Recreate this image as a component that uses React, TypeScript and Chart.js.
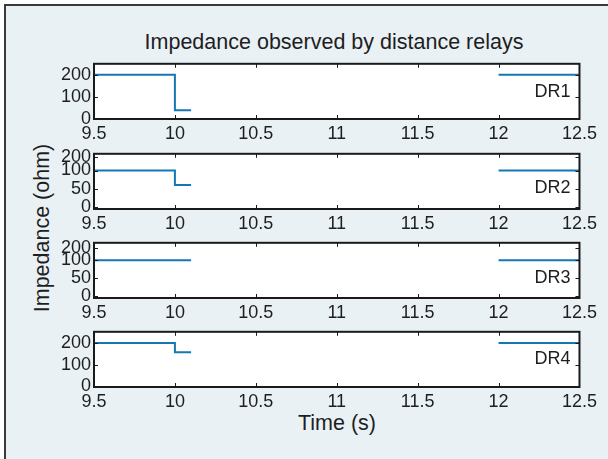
import React, { useEffect, useRef } from "react";
import { Chart, registerables } from "chart.js";

Chart.register(...registerables);

// ---------- data ----------
const timePoints = [9.5, 10, 10, 10.1, 11, 12, 12.5];
const dr1Values = [200, 200, 38, 38, null, 200, 200];
const dr2Values = [100, 100, 60, 60, null, 100, 100];
const dr3Values = [100, 100, 100, 100, null, 100, 100];
const dr4Values = [200, 200, 157, 157, null, 200, 200];
const relayNames = ["DR1", "DR2", "DR3", "DR4"];

const xTicks = [9.5, 10, 10.5, 11, 11.5, 12, 12.5];
const xTickLabels = ["9.5", "10", "10.5", "11", "11.5", "12", "12.5"];
const yTicksWide = [0, 100, 200];
const yTickLabelsWide = ["0", "100", "200"];
const yTicksP2 = [0, 50, 100, 138];
const yTicksP3 = [0, 50, 100, 134];
const yTickLabelsNarrow = ["0", "50", "100", "200"];

const titleText = "Impedance observed by distance relays";
const xAxisLabel = "Time (s)";
const yAxisLabel = "Impedance (ohm)";

// ---------- layout / style ----------
const FONT = "'Liberation Sans', Arial, Helvetica, sans-serif";
const TEXT = "#1e1e1e";
const LINE = "#1677b5";
const PLOT_LEFT = 94;
const PLOT_W = 487;
const PLOT_H = 57;
const Y_W = 44;
const X_H = 30;
const PAD_TOP = 12;
const PAD_R = 20;

const PANELS = [
  { values: dr1Values, name: relayNames[0], top: 62, yMin: -2, yMax: 250, ticks: yTicksWide, labels: yTickLabelsWide, dy: 28 },
  { values: dr2Values, name: relayNames[1], top: 152, yMin: -6, yMax: 146, ticks: yTicksP2, labels: yTickLabelsNarrow, dy: 34 },
  { values: dr3Values, name: relayNames[2], top: 241, yMin: -5, yMax: 149, ticks: yTicksP3, labels: yTickLabelsNarrow, dy: 35 },
  { values: dr4Values, name: relayNames[3], top: 330, yMin: -4, yMax: 252, ticks: yTicksWide, labels: yTickLabelsWide, dy: 27 },
];

const framePlugin = {
  id: "frame",
  beforeDraw(chart: any) {
    const { ctx, chartArea: a } = chart;
    ctx.save();
    ctx.fillStyle = "#ffffff";
    ctx.fillRect(a.left, a.top, a.right - a.left, a.bottom - a.top);
    ctx.restore();
  },
  afterDraw(chart: any, _args: any, opts: any) {
    const { ctx, chartArea: a } = chart;
    const xs = chart.scales.x;
    const ys = chart.scales.y;
    ctx.save();
    ctx.strokeStyle = "#1a1a1a";
    ctx.lineWidth = 1;
    const tl = 4;
    ctx.beginPath();
    xs.ticks.forEach((t: any) => {
      const px = Math.round(xs.getPixelForValue(t.value)) + 0.5;
      ctx.moveTo(px, a.bottom);
      ctx.lineTo(px, a.bottom - tl);
      ctx.moveTo(px, a.top);
      ctx.lineTo(px, a.top + tl);
    });
    ys.ticks.forEach((t: any) => {
      const py = Math.round(ys.getPixelForValue(t.value)) + 0.5;
      ctx.moveTo(a.left, py);
      ctx.lineTo(a.left + tl, py);
      ctx.moveTo(a.right, py);
      ctx.lineTo(a.right - tl, py);
    });
    ctx.stroke();
    ctx.lineWidth = 2;
    ctx.strokeRect(a.left, a.top, a.right - a.left, a.bottom - a.top);
    if (opts && opts.label) {
      ctx.fillStyle = TEXT;
      ctx.font = `18px ${FONT}`;
      ctx.textAlign = "right";
      ctx.textBaseline = "middle";
      ctx.fillText(opts.label, a.right - 9, a.top + opts.dy);
    }
    ctx.restore();
  },
};

function Panel({ panel }: { panel: (typeof PANELS)[number] }) {
  const ref = useRef<HTMLCanvasElement | null>(null);
  useEffect(() => {
    if (!ref.current) return;
    const chart = new Chart(ref.current, {
      type: "line",
      data: {
        datasets: [
          {
            label: panel.name,
            data: timePoints.map((t, i) => ({ x: t, y: panel.values[i] })) as any,
            borderColor: LINE,
            borderWidth: 2,
            pointRadius: 0,
            spanGaps: false,
            fill: false,
            tension: 0,
          },
        ],
      },
      options: {
        responsive: false,
        animation: false,
        devicePixelRatio: 1,
        layout: { padding: { top: PAD_TOP, right: PAD_R, left: 0, bottom: 0 } },
        plugins: {
          legend: { display: false },
          tooltip: { enabled: false },
          frame: { label: panel.name, dy: panel.dy },
        } as any,
        scales: {
          x: {
            type: "linear",
            min: 9.5,
            max: 12.5,
            bounds: "data",
            grid: { display: false, drawTicks: false },
            border: { display: false },
            afterBuildTicks: (s: any) => {
              s.ticks = xTicks.map((v) => ({ value: v }));
            },
            afterFit: (s: any) => {
              s.height = X_H;
            },
            ticks: {
              autoSkip: false,
              maxRotation: 0,
              padding: 4,
              color: TEXT,
              font: { family: FONT, size: 18 },
              callback: (_v: any, i: number) => xTickLabels[i],
            },
          },
          y: {
            type: "linear",
            min: panel.yMin,
            max: panel.yMax,
            bounds: "data",
            grid: { display: false, drawTicks: false },
            border: { display: false },
            afterBuildTicks: (s: any) => {
              s.ticks = panel.ticks.map((v) => ({ value: v }));
            },
            afterFit: (s: any) => {
              s.width = Y_W;
            },
            ticks: {
              autoSkip: false,
              padding: 3,
              color: TEXT,
              font: { family: FONT, size: 18 },
              callback: (_v: any, i: number) => panel.labels[i],
            },
          },
        },
      },
      plugins: [framePlugin],
    });
    return () => chart.destroy();
  }, [panel]);

  const w = Y_W + PLOT_W + PAD_R;
  const h = PAD_TOP + PLOT_H + X_H;
  return (
    <canvas
      ref={ref}
      width={w}
      height={h}
      style={{
        position: "absolute",
        left: PLOT_LEFT - Y_W,
        top: panel.top - PAD_TOP,
        width: w,
        height: h,
      }}
    />
  );
}

export default function App() {
  const textStyle: React.CSSProperties = {
    position: "absolute",
    fontFamily: FONT,
    fontSize: 21.5,
    lineHeight: "21px",
    color: TEXT,
    whiteSpace: "nowrap",
  };
  return (
    <div
      style={{
        position: "fixed",
        left: 0,
        top: 0,
        width: 608,
        height: 459,
        background: "#ffffff",
        overflow: "hidden",
      }}
    >
      <div
        style={{
          position: "absolute",
          left: 4,
          top: 4,
          width: 604,
          height: 455,
          background: "#e9f1f5",
          borderLeft: "2px solid #3a3a3a",
          borderTop: "2px solid #3a3a3a",
          boxSizing: "border-box",
        }}
      />
      <div style={{ ...textStyle, left: 334, top: 32, transform: "translateX(-50%)" }}>{titleText}</div>
      <div style={{ ...textStyle, left: 337, top: 413, transform: "translateX(-50%)" }}>{xAxisLabel}</div>
      <div
        style={{
          ...textStyle,
          left: 42,
          top: 228,
          transform: "translate(-50%, -50%) rotate(-90deg)",
        }}
      >
        {yAxisLabel}
      </div>
      {PANELS.map((p) => (
        <Panel key={p.name} panel={p} />
      ))}
    </div>
  );
}
